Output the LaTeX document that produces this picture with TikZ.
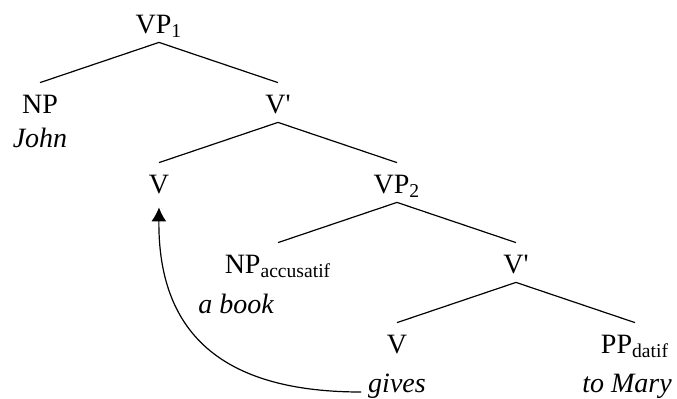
\documentclass[tikz,border=0pt]{standalone}
\usepackage{fontspec}
\setmainfont{Liberation Serif}
\usetikzlibrary{positioning,arrows.meta}

\begin{document}
\begin{tikzpicture}[x=0.5pt,y=-0.5pt,node distance =40pt and 59.5pt ,on grid ,
font=\fontsize{14}{16}\selectfont,
cat/.style ={inner ysep=0pt, text height=15pt, text depth=4.5pt},
word/.style={cat, font=\fontsize{14}{16}\selectfont\itshape},
branch/.style={line width=0.6pt}
]
\useasboundingbox (0,0) rectangle (677,398);
\node[cat,anchor=base] (VPone) at (159,33) {VP\textsubscript{1}};
\node[cat] (NP) [below left = of VPone] {NP};
\node[word] (John) [below = 17pt of NP] {John};
\node[cat] (Vbarone) [below right = of VPone] {V\textquotesingle};
\node[cat] (Vone) [below left = of Vbarone] {V};
\node[cat] (VPtwo) [below right = of Vbarone] {VP\textsubscript{2}};
\node[cat] (NPacc) [below left = of VPtwo] {NP\textsubscript{accusatif}};
\node[word] (book) [below left = 20pt and 21pt of NPacc] {a book};
\node[cat] (Vbartwo) [below right = of VPtwo] {V\textquotesingle};
\node[cat] (Vtwo) [below left = of Vbartwo] {V};
\node[word] (gives) [below = 19.5pt of Vtwo] {gives};
\node[cat] (PPdat) [below right = of Vbartwo] {PP\textsubscript{datif}};
\node[word] (Mary) [below left = 19.5pt and 4pt of PPdat] {to Mary};

\draw[branch] (NP.north) -- (VPone.south) -- (Vbarone.north);
\draw[branch] (Vone.north) -- (Vbarone.south) -- (VPtwo.north);
\draw[branch] (NPacc.north) -- (VPtwo.south) -- (Vbartwo.north);
\draw[branch] (Vtwo.north) -- (Vbartwo.south) -- (PPdat.north);
% movement of the verb
\draw[line width=0.6pt,-{Latex[length=7pt,width=7.5pt]},shorten >=2.5pt]
    (gives.base west) .. controls (230,392) and (158,340) .. (Vone.south);
\end{tikzpicture}
\end{document}
